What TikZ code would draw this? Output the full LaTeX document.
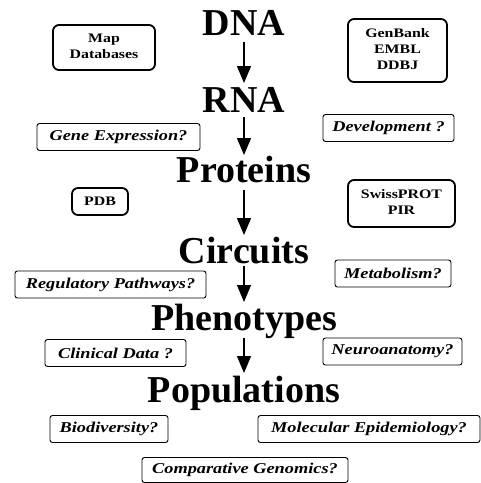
\documentclass[tikz,border=0pt]{standalone}
\usepackage{fontspec}
\setmainfont{Liberation Serif}
\usepackage{graphicx}
\usetikzlibrary{arrows.meta}
\newcommand\hs[1]{\scalebox{1.22}[1]{#1}}
\begin{document}
\begin{tikzpicture}[x=1pt,y=1pt,
  level/.style={inner sep=0pt, anchor=base, font=\fontsize{38}{40}\selectfont\bfseries},
  flow/.style={-{Triangle[width=14pt,length=17pt]}, line width=1.2pt},
  dbbox/.style={draw, line width=1.8pt, rounded corners=6pt, inner sep=0pt, font=\fontsize{13}{16}\selectfont\bfseries},
  qbox/.style={draw, line width=0.9pt, rounded corners=2.5pt, inner sep=0pt, minimum height=27pt, font=\fontsize{15}{18}\selectfont\bfseries\itshape}]
\useasboundingbox (0,0) rectangle (481,-483);
% main levels
\node[level] (dna)  at (244,-35)  {DNA};
\node[level] (rna)  at (244,-112) {RNA};
\node[level] (prot) at (244,-182) {Proteins};
\node[level] (circ) at (244,-263) {Circuits};
\node[level] (phen) at (244,-330) {Phenotypes};
\node[level] (pop)  at (244,-402) {Populations};
% arrows
\draw[flow] ([yshift=-7pt]dna.base)  -- ([yshift=29pt]rna.base);
\draw[flow] ([yshift=-5pt]rna.base)  -- ([yshift=27pt]prot.base);
\draw[flow] ([yshift=-8pt]prot.base) -- ([yshift=28pt]circ.base);
\draw[flow] ([yshift=-3pt]circ.base) -- ([yshift=28pt]phen.base);
\draw[flow] ([yshift=-8pt]phen.base) -- ([yshift=29pt]pop.base);
% database boxes
\node[dbbox, minimum width=102pt, minimum height=45pt] (map) at (104,-47.5)
  {\hs{\begin{tabular}{@{}c@{}}Map\\Databases\end{tabular}}};
\node[dbbox, minimum width=99pt, minimum height=63pt] (genbank) at (397.5,-50.5)
  {\hs{\begin{tabular}{@{}c@{}}GenBank\\EMBL\\DDBJ\end{tabular}}};
\node[dbbox, minimum width=56pt, minimum height=27pt] (pdb) at (100,-201.5)
  {\hs{PDB}};
\node[dbbox, minimum width=107pt, minimum height=47pt] (swiss) at (401.5,-203.5)
  {\hs{\begin{tabular}{@{}c@{}}SwissPROT\\PIR\end{tabular}}};
% question boxes
\node[qbox, minimum width=163pt] (gene)  at (118.5,-137)   {\hs{Gene Expression?}};
\node[qbox, minimum width=131pt] (dev)   at (388.5,-128)   {\hs{Development ?}};
\node[qbox, minimum width=191pt] (reg)   at (110.5,-284.5) {\hs{Regulatory Pathways?}};
\node[qbox, minimum width=116pt] (met)   at (393,-273.5)   {\hs{Metabolism?}};
\node[qbox, minimum width=141pt] (clin)  at (115.5,-353)   {\hs{Clinical Data ?}};
\node[qbox, minimum width=139pt] (neuro) at (392.5,-351.5) {\hs{Neuroanatomy?}};
\node[qbox, minimum width=118pt] (bio)   at (109,-429)     {\hs{Biodiversity?}};
\node[qbox, minimum width=222pt] (mol)   at (369,-429)     {\hs{Molecular Epidemiology?}};
\node[qbox, minimum width=206pt, minimum height=25pt] (comp) at (245,-470) {\hs{Comparative Genomics?}};
\end{tikzpicture}
\end{document}
